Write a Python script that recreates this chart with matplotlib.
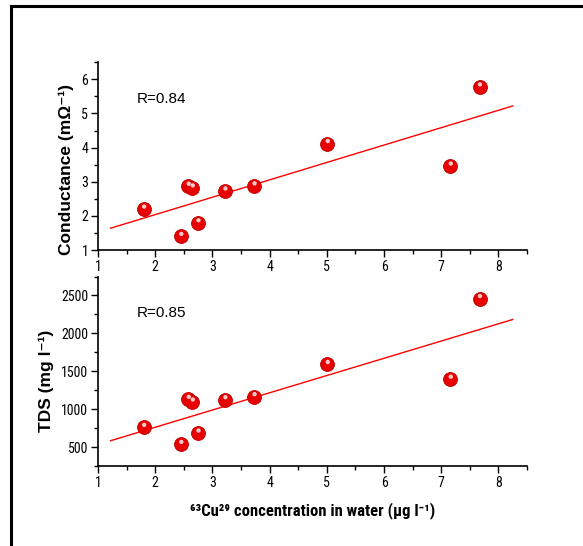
import numpy as np
import matplotlib
matplotlib.use("Agg")
import matplotlib.pyplot as plt
from matplotlib.ticker import MultipleLocator
from matplotlib.transforms import offset_copy

plt.rcParams['font.family'] = ['Roboto Condensed', 'DejaVu Sans']

# Cu concentration (µg/l)
cu = [1.80, 2.45, 2.58, 2.65, 2.75, 3.22, 3.73, 5.01, 7.16, 7.67]
# conductance (mΩ^-1)
conductance = [2.20, 1.40, 2.87, 2.82, 1.80, 2.73, 2.88, 4.12, 3.46, 5.78]
# total dissolved solids (mg/l)
tds = [760, 535, 1130, 1095, 685, 1125, 1165, 1590, 1395, 2460]

r_values = ["R=0.84", "R=0.85"]
fit_range = [1.22, 8.25]

fig = plt.figure(figsize=(5.83, 5.46), dpi=100, facecolor='white')

# outer frame: only left and top lines, like the source
fig.add_artist(plt.Line2D([11/583, 11/583], [0, 1 - 6/546], color='black', lw=2.2))
fig.add_artist(plt.Line2D([11/583, 1], [1 - 6/546, 1 - 6/546], color='black', lw=2.2))

ax1 = fig.add_axes([0.168, 0.542, 0.736, 0.344])
ax2 = fig.add_axes([0.168, 0.1465, 0.736, 0.347])


def draw_panel(ax, x, y, ylabel, rtext, ylim, major, minor, label_y):
    x = np.array(x)
    y = np.array(y)
    # linear fit
    k, b = np.polyfit(x, y, 1)
    xf = np.array(fit_range)
    ax.plot(xf, k * xf + b, color='red', lw=1.0, zorder=2)
    # "3d ball" markers
    ax.scatter(x, y, s=100, color='#e80000', edgecolors='#b80000', linewidths=0.6, zorder=3)
    hl = offset_copy(ax.transData, fig=fig, x=0.3, y=1.8, units='points')
    ax.scatter(x, y, s=10, color='#ffc8c8', edgecolors='none', transform=hl, zorder=4)

    ax.set_xlim(1, 8.5)
    ax.set_ylim(*ylim)
    ax.xaxis.set_major_locator(MultipleLocator(1))
    ax.xaxis.set_minor_locator(MultipleLocator(0.5))
    ax.yaxis.set_major_locator(MultipleLocator(major))
    ax.yaxis.set_minor_locator(MultipleLocator(minor))
    for side in ['top', 'right']:
        ax.spines[side].set_visible(False)
    for side in ['left', 'bottom']:
        ax.spines[side].set_linewidth(1.2)
    ax.tick_params(which='major', direction='out', length=5, width=1, labelsize=10, pad=2)
    ax.tick_params(which='minor', direction='out', length=3, width=1)
    ax.set_ylabel(ylabel, fontsize=12.5, fontweight='bold',
                  family=['Liberation Sans', 'DejaVu Sans'], labelpad=5)
    ax.yaxis.label.set_y(label_y)
    ax.text(0.09, 0.805, rtext, transform=ax.transAxes, fontsize=11,
            family='Liberation Sans', va='center', ha='left')


draw_panel(ax1, cu, conductance, 'Conductance (mΩ⁻¹)', r_values[0],
           (1, 6.5), 1, 0.5, 0.43)
draw_panel(ax2, cu, tds, 'TDS (mg l⁻¹)', r_values[1],
           (250, 2750), 500, 250, 0.45)

ax2.set_xlabel('⁶³Cu²⁹ concentration in water (µg l⁻¹)',
               fontsize=12, fontweight='bold', labelpad=9)

fig.savefig('out.png', dpi=100, facecolor='white')
